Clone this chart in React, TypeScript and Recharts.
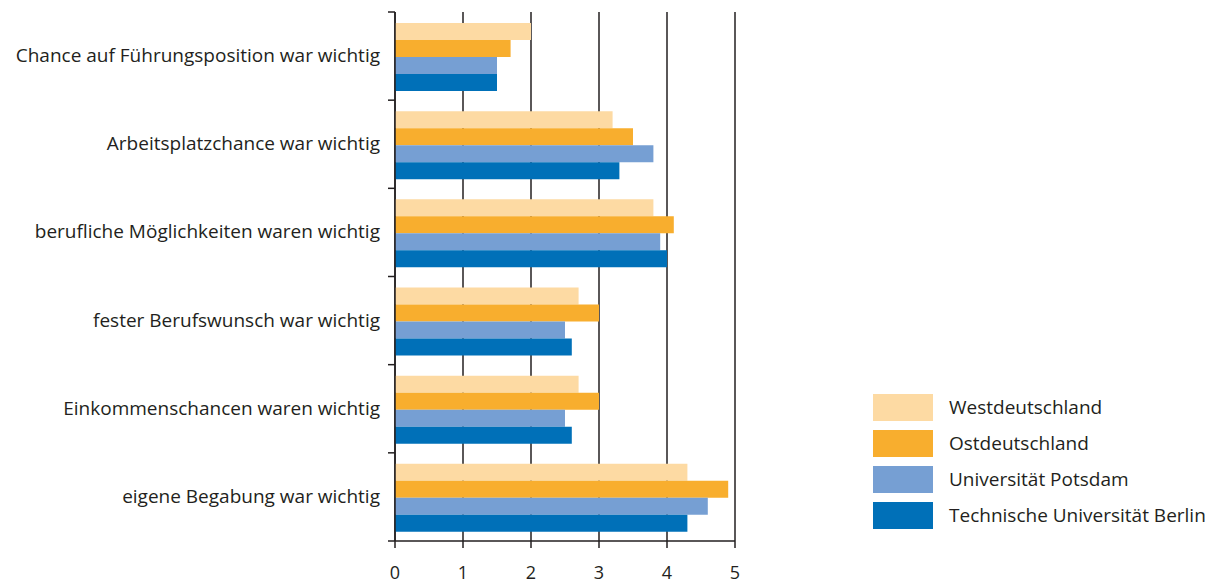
import React from 'react';
import { BarChart, Bar, XAxis, YAxis, CartesianGrid } from 'recharts';

const categories = [
  'Chance auf Führungsposition war wichtig',
  'Arbeitsplatzchance war wichtig',
  'berufliche Möglichkeiten waren wichtig',
  'fester Berufswunsch war wichtig',
  'Einkommenschancen waren wichtig',
  'eigene Begabung war wichtig',
];

const west = [2.0, 3.2, 3.8, 2.7, 2.7, 4.3];
const ost = [1.7, 3.5, 4.1, 3.0, 3.0, 4.9];
const potsdam = [1.5, 3.8, 3.9, 2.5, 2.5, 4.6];
const tuBerlin = [1.5, 3.3, 4.0, 2.6, 2.6, 4.3];

const xTicks = [0, 1, 2, 3, 4, 5];

const series = [
  { key: 'west', name: 'Westdeutschland', color: '#FDDAA3' },
  { key: 'ost', name: 'Ostdeutschland', color: '#F8AE2E' },
  { key: 'potsdam', name: 'Universität Potsdam', color: '#769FD3' },
  { key: 'tu', name: 'Technische Universität Berlin', color: '#0070B8' },
];

const data = categories.map((name, i) => ({
  name,
  west: west[i],
  ost: ost[i],
  potsdam: potsdam[i],
  tu: tuBerlin[i],
}));

const INK = '#231F20';
const FONT = '"Open Sans", sans-serif';
const W = 1200;
const H = 575;
const TOP = 4;
const BOTTOM_AXIS = 42;
const plotH = H - TOP - BOTTOM_AXIS;
const band = plotH / categories.length;

// category label centred in the band, small tick mark on the band edges
const CategoryTick = ({ x, y, payload, index }: any) => {
  const top = y - band / 2;
  return (
    <g>
      <line x1={x - 7} x2={x} y1={top} y2={top} stroke={INK} strokeWidth={1.5} />
      {index === categories.length - 1 && (
        <line x1={x - 7} x2={x} y1={top + band} y2={top + band} stroke={INK} strokeWidth={1.5} />
      )}
      <text x={x - 15} y={y} dy={6} textAnchor="end" fill={INK} fontSize={19} fontFamily={FONT}>
        {payload.value}
      </text>
    </g>
  );
};

export default function App() {
  return (
    <div style={{ position: 'relative', width: W, height: H, background: '#fff' }}>
      <BarChart
        width={W}
        height={H}
        data={data}
        layout="vertical"
        margin={{ top: TOP, right: 473, bottom: 0, left: 0 }}
        barCategoryGap="12.5%"
        barGap={0}
      >
        <CartesianGrid horizontal={false} stroke={INK} strokeWidth={1.5} />
        <XAxis
          type="number"
          domain={[0, 5]}
          ticks={xTicks}
          height={BOTTOM_AXIS}
          axisLine={{ stroke: INK, strokeWidth: 1.5 }}
          tickLine={{ stroke: INK, strokeWidth: 1.5 }}
          tickSize={7}
          tickMargin={18}
          tick={{ fill: INK, fontSize: 18, fontFamily: FONT }}
        />
        <YAxis
          type="category"
          dataKey="name"
          width={387}
          tickLine={false}
          tickSize={0}
          tickMargin={0}
          axisLine={{ stroke: INK, strokeWidth: 1.5 }}
          tick={<CategoryTick />}
          interval={0}
        />
        {series.map((s) => (
          <Bar key={s.key} dataKey={s.key} name={s.name} fill={s.color} isAnimationActive={false} />
        ))}
      </BarChart>
      <div style={{ position: 'absolute', left: 865, top: 381, fontFamily: FONT, color: INK }}>
        {series.map((s) => (
          <div key={s.key} style={{ display: 'flex', alignItems: 'center', height: 36 }}>
            <div style={{ width: 60, height: 27, background: s.color, marginRight: 16 }} />
            <span style={{ fontSize: 19 }}>{s.name}</span>
          </div>
        ))}
      </div>
    </div>
  );
}
